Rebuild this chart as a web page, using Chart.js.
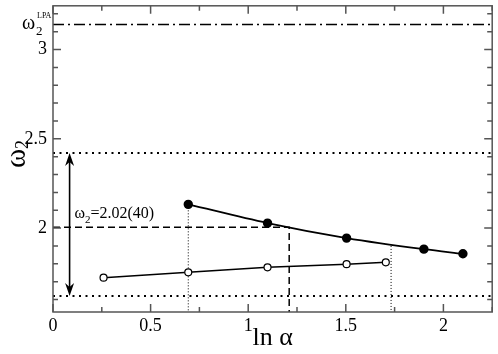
<!DOCTYPE html>
<html>
<head>
<meta charset="utf-8">
<script src="https://cdn.jsdelivr.net/npm/chart.js@4.4.0/dist/chart.umd.min.js"></script>
<style>
  body { margin: 0; background: #fff; }
  #wrap { width: 498px; height: 354px; }
</style>
</head>
<body>
<div id="wrap"><canvas id="chartCanvas"></canvas></div>
<script>
// omega_2 estimates against ln(alpha)
var filledX = [0.693, 1.099, 1.504, 1.9, 2.1];
var filledY = [2.133, 2.028, 1.944, 1.882, 1.856];
var openX = [0.259, 0.693, 1.099, 1.504, 1.705];
var openY = [1.722, 1.752, 1.780, 1.798, 1.808];

// reference values
var omegaLPA = 3.14;
var omegaUpper = 2.42;
var omegaLower = 1.62;
var crossX = 1.21, crossY = 2.005;
var dropX = [0.693, 1.732];
var dropTop = [2.133, 1.9];
var arrowX = 0.085;
var labelX = 0.11, labelY = 2.054;

var xTicks = [0, 0.5, 1, 1.5, 2];
var yTicks = [2, 2.5, 3];
var xMin = 0, xMax = 2.25, yMin = 1.53, yMax = 3.245;

var serif = '"Liberation Serif", "DejaVu Serif", serif';

function pts(xs, ys) {
  return xs.map(function(x, i) { return {x: x, y: ys[i]}; });
}

function refLine(data, dash, width) {
  return {
    data: data, borderColor: '#000', borderWidth: width, borderDash: dash,
    pointRadius: 0, fill: false, tension: 0
  };
}

var datasets = [
  {
    data: pts(filledX, filledY),
    borderColor: '#000', backgroundColor: '#000', borderWidth: 1.8,
    pointRadius: 3.8, pointBackgroundColor: '#000', pointBorderColor: '#000',
    cubicInterpolationMode: 'monotone', fill: false
  },
  {
    data: pts(openX, openY),
    borderColor: '#000', borderWidth: 1.5,
    pointRadius: 3.5, pointBackgroundColor: '#fff', pointBorderColor: '#000', pointBorderWidth: 1.2,
    tension: 0, fill: false
  },
  refLine([{x: xMin, y: omegaLPA}, {x: xMax, y: omegaLPA}], [11, 4, 2, 4], 1.5),
  refLine([{x: xMin, y: omegaUpper}, {x: xMax, y: omegaUpper}], [2, 4.5], 2),
  refLine([{x: xMin, y: omegaLower}, {x: xMax, y: omegaLower}], [2, 4.5], 2),
  refLine([{x: xMin, y: crossY}, {x: crossX, y: crossY}, {x: crossX, y: yMin}], [7, 4], 1.5),
  refLine([{x: dropX[0], y: dropTop[0]}, {x: dropX[0], y: yMin}], [1, 2], 1),
  refLine([{x: dropX[1], y: dropTop[1]}, {x: dropX[1], y: yMin}], [1, 2], 1)
];

var framePlugin = {
  id: 'frame',
  afterDraw: function(chart) {
    var c = chart.ctx, a = chart.chartArea;
    var xs = chart.scales.x, ys = chart.scales.y;
    c.save();
    c.strokeStyle = '#555';
    c.lineWidth = 1.5;
    c.strokeRect(a.left, a.top, a.right - a.left, a.bottom - a.top);
    c.beginPath();
    for (var i = 0; i <= 9; i++) {
      var px = xs.getPixelForValue(i * 0.25);
      var len = i % 2 === 0 ? 8 : 5;
      c.moveTo(px, a.bottom); c.lineTo(px, a.bottom - len);
      c.moveTo(px, a.top); c.lineTo(px, a.top + len);
    }
    for (var k = 16; k <= 32; k++) {
      var py = ys.getPixelForValue(k / 10);
      var l2 = k % 5 === 0 ? 8 : 5;
      c.moveTo(a.left, py); c.lineTo(a.left + l2, py);
      c.moveTo(a.right, py); c.lineTo(a.right - l2, py);
    }
    c.stroke();
    c.restore();
  }
};

var notePlugin = {
  id: 'notes',
  afterDatasetsDraw: function(chart) {
    var c = chart.ctx;
    var xs = chart.scales.x, ys = chart.scales.y;
    c.save();
    c.fillStyle = '#000';
    c.strokeStyle = '#000';

    // double arrow for the error band
    var ax = xs.getPixelForValue(arrowX);
    var y1 = ys.getPixelForValue(omegaUpper), y2 = ys.getPixelForValue(omegaLower);
    c.lineWidth = 1.6;
    c.beginPath(); c.moveTo(ax, y1 + 6); c.lineTo(ax, y2 - 6); c.stroke();
    c.beginPath();
    c.moveTo(ax, y1); c.lineTo(ax + 4.5, y1 + 13); c.lineTo(ax, y1 + 9); c.lineTo(ax - 4.5, y1 + 13); c.closePath();
    c.moveTo(ax, y2); c.lineTo(ax + 4.5, y2 - 13); c.lineTo(ax, y2 - 9); c.lineTo(ax - 4.5, y2 - 13); c.closePath();
    c.fill();

    // omega_2 = 2.02(40)
    c.textBaseline = 'alphabetic';
    c.textAlign = 'left';
    var tx = xs.getPixelForValue(labelX), ty = ys.getPixelForValue(labelY);
    c.font = '16px ' + serif;
    c.fillText('\u03c9', tx, ty);
    tx += c.measureText('\u03c9').width;
    c.font = '11px ' + serif;
    c.fillText('2', tx, ty + 5);
    tx += c.measureText('2').width;
    c.font = '16px ' + serif;
    c.fillText('=2.02(40)', tx, ty);

    // omega_2^LPA tick label
    var ly = ys.getPixelForValue(omegaLPA);
    c.font = '20px ' + serif;
    c.fillText('\u03c9', 22, ly + 4);
    c.font = '13px ' + serif;
    c.fillText('2', 36, ly + 10);
    c.font = '8px ' + serif;
    c.fillText('LPA', 37, ly - 7);

    // y axis title
    c.translate(25, 168);
    c.rotate(-Math.PI / 2);
    c.font = '29px ' + serif;
    c.fillText('\u03c9', 0, 0);
    var w = c.measureText('\u03c9').width;
    c.font = '18px ' + serif;
    c.fillText('2', w, 3);
    c.restore();
  }
};

var ctx = document.getElementById('chartCanvas').getContext('2d');
var chart = new Chart(ctx, {
  type: 'line',
  data: { datasets: datasets },
  options: {
    responsive: true,
    maintainAspectRatio: false,
    animation: false,
    layout: { padding: { top: 3, right: 3, left: 0, bottom: 0 } },
    plugins: {
      legend: { display: false },
      tooltip: { enabled: false }
    },
    scales: {
      x: {
        type: 'linear',
        min: xMin, max: xMax,
        grid: { display: false, drawTicks: false },
        border: { display: false },
        afterBuildTicks: function(s) { s.ticks = xTicks.map(function(v) { return {value: v}; }); },
        afterFit: function(s) { s.height = 42; s.paddingLeft = 0; s.paddingRight = 0; },
        ticks: {
          color: '#000', padding: 3, maxRotation: 0,
          font: { family: serif, size: 18 },
          callback: function(v) { return String(v); }
        },
        title: {
          display: true, text: 'ln \u03b1', color: '#000', padding: 0,
          font: { family: serif, size: 26 }
        }
      },
      y: {
        type: 'linear',
        min: yMin, max: yMax,
        grid: { display: false, drawTicks: false },
        border: { display: false },
        afterBuildTicks: function(s) { s.ticks = yTicks.map(function(v) { return {value: v}; }); },
        afterFit: function(s) { s.width = 53; s.paddingTop = 0; s.paddingBottom = 0; },
        ticks: {
          color: '#000', padding: 6,
          font: { family: serif, size: 18 },
          callback: function(v) { return String(v); }
        }
      }
    }
  },
  plugins: [framePlugin, notePlugin]
});
</script>
</body>
</html>
